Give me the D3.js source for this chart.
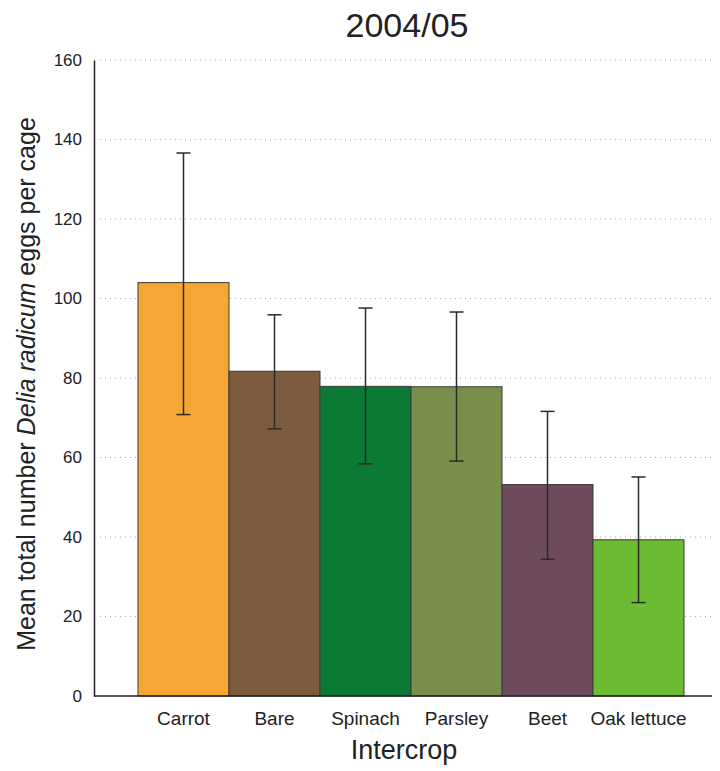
<!DOCTYPE html>
<html>
<head>
<meta charset="utf-8">
<script src="https://cdn.jsdelivr.net/npm/d3@7"></script>
<style>
  body { margin: 0; background: #fff; }
  text { font-family: "Liberation Sans", Arial, sans-serif; fill: #222; }
</style>
</head>
<body>
<svg id="chart" width="720" height="771"></svg>
<script>
// data
var crops = ["Carrot", "Bare", "Spinach", "Parsley", "Beet", "Oak lettuce"];
var means = [104, 81.7, 77.9, 77.8, 53.2, 39.3];
var upper = [136.6, 95.9, 97.6, 96.6, 71.6, 55.1];
var lower = [70.8, 67.2, 58.4, 59.1, 34.4, 23.5];
var colours = ["#f6a733", "#7d5b3f", "#0c7a35", "#7a8e4c", "#6d4b5d", "#6dba33"];
var yTicks = [0, 20, 40, 60, 80, 100, 120, 140, 160];

var svg = d3.select("#chart");

var x = d3.scaleBand()
    .domain(crops)
    .range([138, 684])
    .padding(0);

var y = d3.scaleLinear()
    .domain([0, 160])
    .range([696, 60]);

// dotted gridlines
svg.append("g")
    .selectAll("line")
    .data(yTicks.slice(1))
  .enter().append("line")
    .attr("x1", 100)
    .attr("x2", 712)
    .attr("y1", function(d) { return y(d); })
    .attr("y2", function(d) { return y(d); })
    .attr("stroke", "#aaa")
    .attr("stroke-width", 1)
    .attr("stroke-dasharray", "1,4");

// bars
svg.append("g")
    .selectAll("rect")
    .data(crops)
  .enter().append("rect")
    .attr("x", function(d) { return x(d); })
    .attr("y", function(d, i) { return y(means[i]); })
    .attr("width", x.bandwidth())
    .attr("height", function(d, i) { return y(0) - y(means[i]); })
    .attr("fill", function(d, i) { return colours[i]; })
    .attr("stroke", "#3a3a3a")
    .attr("stroke-width", 1);

// error bars
var err = svg.append("g")
    .attr("stroke", "#2a2a2a")
    .attr("stroke-width", 1.5);

crops.forEach(function(c, i) {
  var cx = x(c) + x.bandwidth() / 2;
  err.append("line")
      .attr("x1", cx).attr("x2", cx)
      .attr("y1", y(upper[i])).attr("y2", y(lower[i]));
  err.append("line")
      .attr("x1", cx - 7).attr("x2", cx + 7)
      .attr("y1", y(upper[i])).attr("y2", y(upper[i]));
  err.append("line")
      .attr("x1", cx - 7).attr("x2", cx + 7)
      .attr("y1", y(lower[i])).attr("y2", y(lower[i]));
});

// y axis
var yAxis = svg.append("g")
    .attr("transform", "translate(94,0)")
    .call(d3.axisLeft(y).tickValues(yTicks).tickSize(0).tickPadding(12));
yAxis.select(".domain").attr("stroke", "#222").attr("stroke-width", 1.5);
yAxis.selectAll("text")
    .style("font-size", "17px")
    .style("font-family", "Liberation Sans, Arial, sans-serif")
    .attr("fill", "#222");

// baseline
svg.append("line")
    .attr("x1", 94).attr("x2", 712)
    .attr("y1", y(0)).attr("y2", y(0))
    .attr("stroke", "#222")
    .attr("stroke-width", 1.5);

// x labels
svg.append("g")
    .selectAll("text")
    .data(crops)
  .enter().append("text")
    .attr("x", function(d) { return x(d) + x.bandwidth() / 2; })
    .attr("y", 725)
    .attr("text-anchor", "middle")
    .style("font-size", "19px")
    .text(function(d) { return d; });

// axis titles
svg.append("text")
    .attr("x", 404)
    .attr("y", 759)
    .attr("text-anchor", "middle")
    .style("font-size", "27px")
    .text("Intercrop");

var yl = svg.append("text")
    .attr("transform", "translate(35,384) rotate(-90)")
    .attr("text-anchor", "middle")
    .style("font-size", "25px");
yl.append("tspan").text("Mean total number ");
yl.append("tspan").style("font-style", "italic").text("Delia radicum");
yl.append("tspan").text(" eggs per cage");

// title
svg.append("text")
    .attr("x", 407)
    .attr("y", 37)
    .attr("text-anchor", "middle")
    .style("font-size", "34px")
    .text("2004/05");
</script>
</body>
</html>
